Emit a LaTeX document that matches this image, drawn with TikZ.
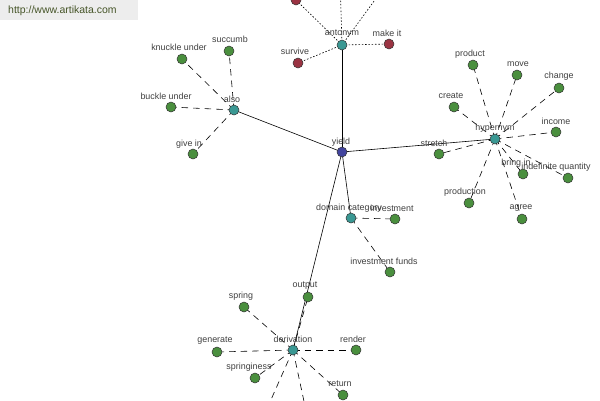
\documentclass[tikz,border=0pt]{standalone}
\usepackage{fontspec}
\setmainfont{Liberation Sans}
\begin{document}
\begin{tikzpicture}[x=1pt,y=-1pt,
  every node/.style={inner sep=0pt},
  dot/.style={circle,draw=black!80,line width=0.5pt,minimum size=10pt},
  gdot/.style={dot,fill=leafgreen},
  tdot/.style={dot,fill=tealc},
  rdot/.style={dot,fill=redc},
  bdot/.style={dot,fill=bluec},
  lbl/.style={font=\fontsize{8.9}{10}\selectfont,text=black!75},
  solid edge/.style={line width=0.6pt,black},
  dash edge/.style={line width=0.6pt,black,dash pattern=on 6.5pt off 5pt},
  dot edge/.style={line width=0.6pt,black,dash pattern=on 1.5pt off 1.8pt}]
\definecolor{leafgreen}{HTML}{4A8F3E}
\definecolor{tealc}{HTML}{3A9893}
\definecolor{redc}{HTML}{9A3342}
\definecolor{bluec}{HTML}{42449E}
\useasboundingbox (0,0) rectangle (600,400);
\fill[white] (0,0) rectangle (600,400);
% watermark
\fill[black!7] (0,0) rectangle (138,20);
\node[font=\fontsize{10.5}{12}\selectfont,text={rgb,255:red,70;green,85;blue,40},anchor=west] (wm) at (8,11) {http://www.artikata.com};

% coordinates for node centres
\coordinate (yield) at (342,152);
\coordinate (antonym) at (342,45);
\coordinate (also) at (234,110);
\coordinate (hyper) at (495,139);
\coordinate (domain) at (351,218);
\coordinate (deriv) at (293,350);
% antonym leaves
\coordinate (r1) at (296,0);
\coordinate (r2) at (340,-22);
\coordinate (r3) at (388,-18);
\coordinate (survive) at (298,63);
\coordinate (makeit) at (389,44);
% also leaves
\coordinate (knuckle) at (182,59);
\coordinate (succumb) at (229,51);
\coordinate (buckle) at (171,107);
\coordinate (givein) at (193,154);
% hypernym leaves
\coordinate (product) at (473,65);
\coordinate (move) at (517,75);
\coordinate (change) at (559,88);
\coordinate (create) at (454,107);
\coordinate (income) at (556,132);
\coordinate (stretch) at (439,154);
\coordinate (bringin) at (523,174);
\coordinate (indef) at (568,178);
\coordinate (production) at (469,203);
\coordinate (agree) at (522,219);
% domain leaves
\coordinate (invest) at (395,219);
\coordinate (funds) at (390,272);
% derivation leaves
\coordinate (output) at (308,297);
\coordinate (spring) at (244,307);
\coordinate (generate) at (217,352);
\coordinate (render) at (356,350);
\coordinate (springy) at (255,378);
\coordinate (return) at (343,395);
\coordinate (d1) at (262,420);
\coordinate (d2) at (308,420);

% edges
\foreach \a in {antonym,also,hyper,domain,deriv} \draw[solid edge] (yield) -- (\a);
\foreach \a in {r1,r2,r3,survive,makeit} \draw[dot edge] (antonym) -- (\a);
\foreach \a in {knuckle,succumb,buckle,givein} \draw[dash edge] (also) -- (\a);
\foreach \a in {product,move,change,create,income,stretch,bringin,indef,production,agree} \draw[dash edge] (hyper) -- (\a);
\foreach \a in {invest,funds} \draw[dash edge] (domain) -- (\a);
\foreach \a in {output,spring,generate,render,springy,return,d1,d2} \draw[dash edge] (deriv) -- (\a);

% nodes
\node[bdot] (nyield) at (yield) {};
\foreach \a in {antonym,also,hyper,domain,deriv} \node[tdot] (n\a) at (\a) {};
\foreach \a in {r1,r2,r3,survive,makeit} \node[rdot] (n\a) at (\a) {};
\foreach \a in {knuckle,succumb,buckle,givein,product,move,change,create,income,stretch,bringin,indef,production,agree,invest,funds,output,spring,generate,render,springy,return,d1,d2} \node[gdot] (n\a) at (\a) {};

% labels
\node[lbl] (lyield) at (341,142) {yield};
\node[lbl] (lantonym) at (342,34) {antonym};
\node[lbl] (lalso) at (232,99) {also};
\node[lbl] (lhyper) at (495,128) {hypernym};
\node[lbl] (ldomain) at (349,208) {domain category};
\node[lbl] (lderiv) at (293,339) {derivation};
\node[lbl] (lsurvive) at (295,51) {survive};
\node[lbl] (lmakeit) at (387,33) {make it};
\node[lbl] (lknuckle) at (179,47) {knuckle under};
\node[lbl] (lsuccumb) at (230,39) {succumb};
\node[lbl] (lbuckle) at (166,96) {buckle under};
\node[lbl] (lgivein) at (189,144) {give in};
\node[lbl] (lproduct) at (470,54) {product};
\node[lbl] (lmove) at (518,64) {move};
\node[lbl] (lchange) at (559,76) {change};
\node[lbl] (lcreate) at (451,96) {create};
\node[lbl] (lincome) at (556,121) {income};
\node[lbl] (lstretch) at (434,143) {stretch};
\node[lbl] (lbringin) at (516,163) {bring in};
\node[lbl] (lindef) at (556,167) {indefinite quantity};
\node[lbl] (lproduction) at (465,192) {production};
\node[lbl] (lagree) at (521,208) {agree};
\node[lbl] (linvest) at (392,208) {investment};
\node[lbl] (lfunds) at (384,261) {investment funds};
\node[lbl] (loutput) at (305,286) {output};
\node[lbl] (lspring) at (241,296) {spring};
\node[lbl] (lgenerate) at (215,341) {generate};
\node[lbl] (lrender) at (353,339) {render};
\node[lbl] (lspringy) at (249,367) {springiness};
\node[lbl] (lreturn) at (340,384) {return};
\end{tikzpicture}
\end{document}
